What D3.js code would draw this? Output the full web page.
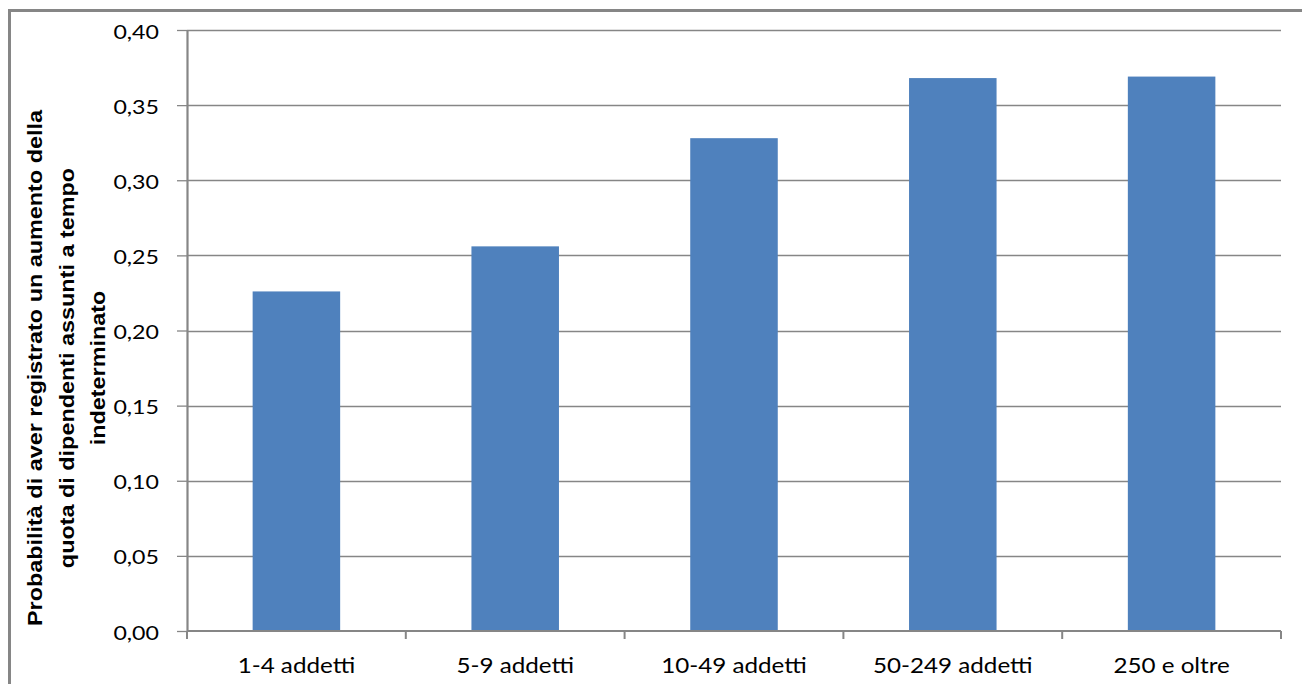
<!DOCTYPE html>
<html>
<head>
<meta charset="utf-8">
<script src="https://cdn.jsdelivr.net/npm/d3@7"></script>
<style>
  html, body { margin: 0; padding: 0; background: #fff; overflow: hidden; }
  svg { display: block; }
</style>
</head>
<body>
<svg id="chart" width="1302" height="684"></svg>
<script>
// ---- data ----
const categories = ["1-4 addetti", "5-9 addetti", "10-49 addetti", "50-249 addetti", "250 e oltre"];
const values = [0.226, 0.256, 0.328, 0.368, 0.369];
const yTicks = [0, 0.05, 0.10, 0.15, 0.20, 0.25, 0.30, 0.35, 0.40];
const titleLines = [
  "Probabilità di aver registrato un aumento della",
  "quota di dipendenti assunti a tempo",
  "indeterminato"
];

// ---- layout ----
const svg = d3.select("#chart");
const plot = { left: 187, right: 1281, top: 30, bottom: 631 };
const gridColor = "#868686";
const barColor = "#4F81BD";

// outer frame (runs off the right and bottom edges)
svg.append("rect")
  .attr("x", 9.5).attr("y", 10.5)
  .attr("width", 1400).attr("height", 800)
  .attr("fill", "none").attr("stroke", gridColor).attr("stroke-width", 3);

const x = d3.scaleBand()
  .domain(categories)
  .range([plot.left, plot.right])
  .paddingInner(0.6)
  .paddingOuter(0.3);

const y = d3.scaleLinear()
  .domain([0, 0.40])
  .range([plot.bottom, plot.top]);

// gridlines
svg.append("g")
  .selectAll("line")
  .data(yTicks.filter(d => d > 0))
  .join("line")
  .attr("x1", plot.left).attr("x2", plot.right)
  .attr("y1", d => Math.round(y(d)) + 0.5).attr("y2", d => Math.round(y(d)) + 0.5)
  .attr("stroke", gridColor).attr("stroke-width", 1.3);

// bars
svg.append("g")
  .selectAll("rect")
  .data(values)
  .join("rect")
  .attr("x", (d, i) => x(categories[i]))
  .attr("width", x.bandwidth())
  .attr("y", d => y(d))
  .attr("height", d => y(0) - y(d))
  .attr("fill", barColor);

// y axis
const fmt = d => d3.format(".2f")(d).replace(".", ",");
const yAxis = svg.append("g")
  .attr("transform", `translate(${plot.left},0)`)
  .call(d3.axisLeft(y).tickValues(yTicks).tickFormat(fmt).tickSize(10).tickSizeOuter(0));
yAxis.select(".domain").attr("stroke", gridColor).attr("stroke-width", 2.2);
yAxis.selectAll(".tick line").attr("stroke", gridColor).attr("stroke-width", 1.3);
yAxis.selectAll(".tick text")
  .attr("x", null).attr("dy", null)
  .attr("transform", "translate(-28,8) scale(1.22,1)")
  .attr("text-anchor", "end")
  .attr("fill", "#000")
  .style("font-family", "Lato, 'Open Sans', sans-serif")
  .style("font-size", "19px");

// x axis: baseline with ticks at category boundaries
const xAxisG = svg.append("g").attr("transform", `translate(0,${plot.bottom})`);
xAxisG.append("line")
  .attr("x1", plot.left).attr("x2", plot.right)
  .attr("y1", 0).attr("y2", 0)
  .attr("stroke", gridColor).attr("stroke-width", 2.2);
const boundaries = categories.map(c => x(c) - x.step() * x.paddingOuter()).concat([plot.right]);
xAxisG.selectAll("line.tk")
  .data(boundaries)
  .join("line")
  .attr("class", "tk")
  .attr("x1", d => d).attr("x2", d => d)
  .attr("y1", 0).attr("y2", 8)
  .attr("stroke", gridColor).attr("stroke-width", 2);
xAxisG.selectAll("text")
  .data(categories)
  .join("text")
  .attr("transform", d => `translate(${x(d) + x.bandwidth() / 2},42) scale(1.1,1)`)
  .attr("text-anchor", "middle")
  .attr("fill", "#000")
  .style("font-family", "Lato, 'Open Sans', sans-serif")
  .style("font-size", "22px")
  .text(d => d);

// y axis title (three rotated lines)
const titleBaselines = [42, 73.5, 105];
svg.append("g")
  .selectAll("text")
  .data(titleLines)
  .join("text")
  .attr("transform", (d, i) => `translate(${titleBaselines[i]},368) rotate(-90) scale(1,0.835)`)
  .attr("text-anchor", "middle")
  .attr("fill", "#000")
  .style("font-family", "'Liberation Sans', Arial, sans-serif")
  .style("font-weight", "bold")
  .style("font-size", "23.4px")
  .text(d => d);
</script>
</body>
</html>
